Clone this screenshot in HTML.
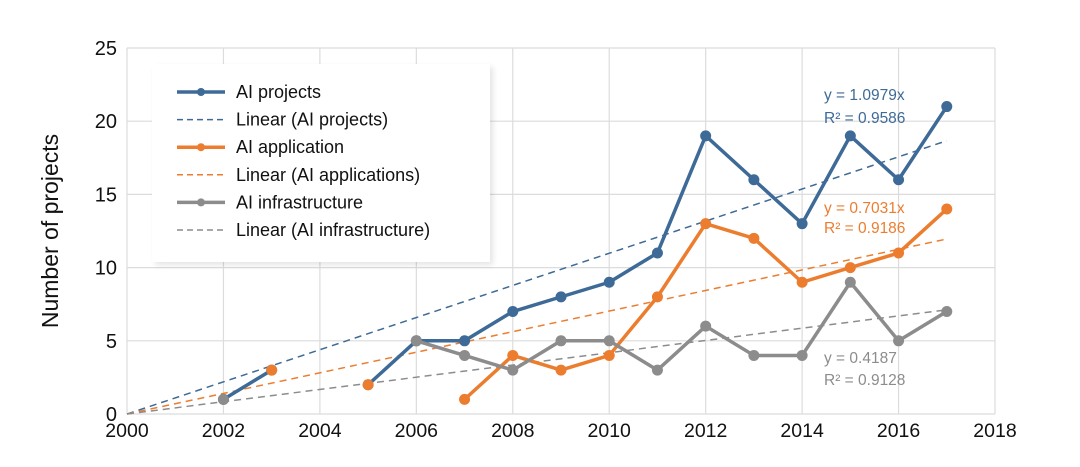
<!DOCTYPE html>
<html><head><meta charset="utf-8"><style>
body{margin:0;background:#fff;font-family:"Liberation Sans",Arial,sans-serif}
svg{display:block}
</style></head><body>
<svg id="chart" width="1080" height="467"></svg>
<script>
const years=[2000,2001,2002,2003,2004,2005,2006,2007,2008,2009,2010,2011,2012,2013,2014,2015,2016,2017];
const aiProjects=[null,null,1,3,null,2,5,5,7,8,9,11,19,16,13,19,16,21];
const aiApplication=[null,null,null,3,null,2,null,1,4,3,4,8,13,12,9,10,11,14];
const aiInfrastructure=[null,null,1,null,null,null,5,4,3,5,5,3,6,4,4,9,5,7];
const slopes=[1.0979,0.7031,0.4187];
const yTicks=[0,5,10,15,20,25];
const xTicks=[2000,2002,2004,2006,2008,2010,2012,2014,2016,2018];
const NS="http://www.w3.org/2000/svg";
const svg=document.getElementById('chart');
const L=127,R=995,T=48,B=414;
const xs=v=>L+(v-2000)/18*(R-L);
const ys=v=>B-v/25*(B-T);
function el(t,a,p){const e=document.createElementNS(NS,t);for(const k in a)e.setAttribute(k,a[k]);(p||svg).appendChild(e);return e;}
yTicks.forEach(v=>{
 const g=el('line',{x1:L,x2:R,y1:ys(v),y2:ys(v),stroke:'#dcdcdc','stroke-width':1.2});
 
 
 const t=el('text',{x:L-10,y:ys(v)+7,'text-anchor':'end','font-size':20,fill:'#111'});t.textContent=v;
 
 
});
xTicks.forEach(v=>{
 const g=el('line',{x1:xs(v),x2:xs(v),y1:T,y2:B,stroke:'#dcdcdc','stroke-width':1.2});
 
 
 const t=el('text',{x:xs(v),y:B+23,'text-anchor':'middle','font-size':19.5,fill:'#111'});t.textContent=v;
 
 
});
const yl=el('text',{x:58,y:231,'text-anchor':'middle','font-size':23,fill:'#111',transform:'rotate(-90 58 231)'});yl.textContent='Number of projects';


const colors=['#3e6a97','#ec7d2f','#8c8c8c'];
const series=[aiProjects,aiApplication,aiInfrastructure];
const names=['ai-projects','ai-application','ai-infrastructure'];
slopes.forEach((s,i)=>{
 const l=el('line',{x1:xs(2000),y1:ys(0),x2:xs(2017),y2:ys(s*17),stroke:colors[i],'stroke-width':1.5,'stroke-dasharray':'7 5'});
 
 
});
series.forEach((d,i)=>{
 let path='',pen=false;
 d.forEach((v,j)=>{if(v==null){pen=false;return;}path+=(pen?'L':'M')+xs(years[j])+' '+ys(v);pen=true;});
 const p=el('path',{d:path,fill:'none',stroke:colors[i],'stroke-width':3.5,'stroke-linejoin':'round'});
 
 
 d.forEach((v,j)=>{if(v==null)return;
  const c=el('circle',{cx:xs(years[j]),cy:ys(v),r:5.5,fill:colors[i]});
  
  
 });
});
const ann=[['y = 1.0979x','R² = 0.9586',100,123],['y = 0.7031x','R² = 0.9186',213,233],['y = 0.4187','R² = 0.9128',363,385]];
ann.forEach((a,i)=>{
 [0,1].forEach(k=>{const t=el('text',{x:824,y:a[2+k],'font-size':15.5,fill:colors[i]});t.textContent=a[k];
 
 });
});
const lg=el('g',{});


el('rect',{x:155,y:67,width:338,height:198,fill:'#000',opacity:0.1,filter:'blur(3px)'},lg);
el('rect',{x:152,y:64,width:338,height:198,fill:'#fff'},lg);
const items=['AI projects','Linear (AI projects)','AI application','Linear (AI applications)','AI infrastructure','Linear (AI infrastructure)'];
items.forEach((s,k)=>{
 const y=92+k*27.6,c=colors[Math.floor(k/2)];
 if(k%2==0){el('line',{x1:177,x2:225,y1:y,y2:y,stroke:c,'stroke-width':3.5},lg);el('circle',{cx:201,cy:y,r:4,fill:c},lg);}
 else el('line',{x1:177,x2:225,y1:y,y2:y,stroke:c,'stroke-width':1.5,'stroke-dasharray':'6 4'},lg);
 const t=el('text',{x:236,y:y+6,'font-size':18,fill:'#111'},lg);t.textContent=s;
 
 
});
</script>
</body></html>
